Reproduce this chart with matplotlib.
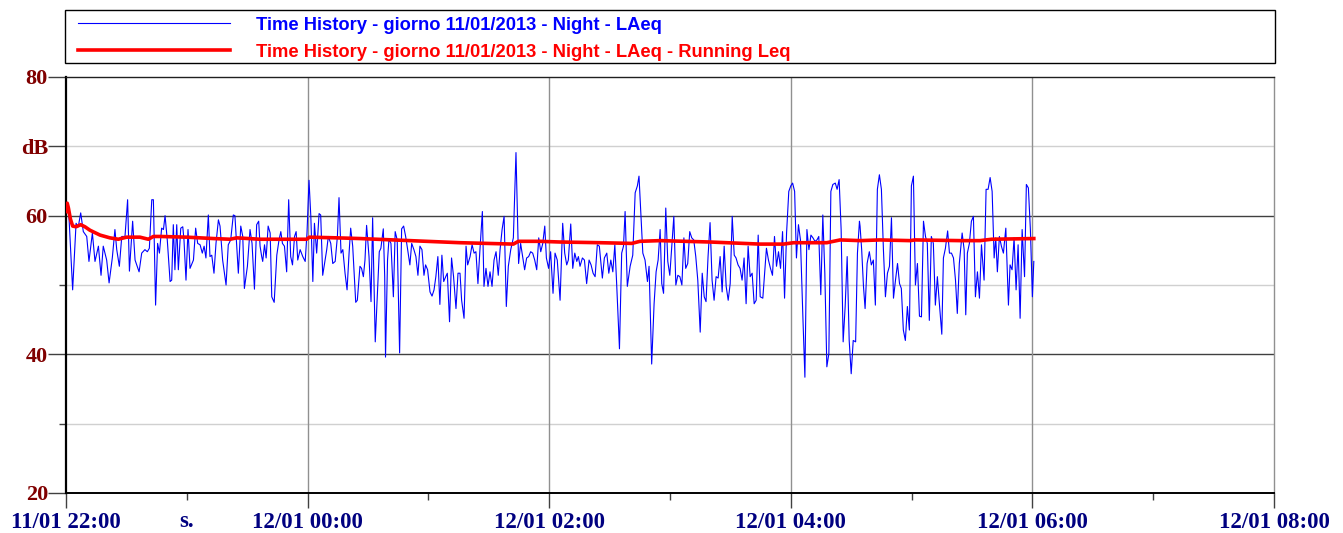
import datetime as dt

import matplotlib
matplotlib.use("Agg")
import matplotlib.pyplot as plt
import matplotlib.dates as mdates
from matplotlib.patches import Rectangle
from matplotlib.ticker import FixedLocator, FuncFormatter

# Time history (minutes from 11/01 22:00, dB)
START = dt.datetime(2013, 1, 11, 22, 0)
END = dt.datetime(2013, 1, 12, 8, 0)

LAEQ_MIN = [
    0.0, 1.2, 3.3, 5.0, 6.1, 7.3, 8.6, 10.3, 11.4, 13.1, 14.4, 16.1, 17.4, 18.5, 20.2, 21.4,
    23.0, 24.3, 25.2, 26.5, 27.7, 29.3, 30.6, 31.5, 33.1, 34.3, 36.3, 37.6, 39.2, 40.4, 41.4,
    42.6, 43.4, 44.5, 45.5, 46.4,
    47.5, 48.4, 49.2, 50.3, 51.7, 52.5, 53.3, 54.1, 55.0, 55.8, 57.0, 58.0, 58.6, 59.6, 60.6,
    61.6, 63.3, 64.4, 65.4, 66.6, 67.7, 68.6, 69.5, 70.7, 71.5, 72.4, 73.5, 74.5, 75.7, 76.5,
    77.8, 79.5, 80.6, 81.8, 83.1, 83.9, 85.6, 86.8, 87.8, 88.6, 90.1, 91.4, 92.4, 93.6, 94.7,
    95.7,
    96.4, 97.2, 97.7, 98.6, 99.4, 100.4, 101.4, 102.2, 103.4, 104.7, 105.8, 106.7, 107.5,
    108.5, 109.6, 110.6, 111.6, 112.5, 113.5, 114.3, 115.1, 116.3, 117.6, 118.8, 119.7, 120.7,
    121.6, 122.6, 123.4, 124.5, 125.7, 126.5, 127.5, 128.7, 129.5, 130.3, 131.5, 132.5, 133.7,
    134.8, 135.6, 136.6, 137.5, 138.6, 139.6, 140.6, 141.4, 142.4, 143.9, 144.7,
    146.0, 146.8, 147.7, 148.5, 149.3, 150.5, 151.5, 152.3, 153.6, 154.6, 155.6, 156.4, 157.6,
    158.3, 158.7, 159.7, 160.4, 161.4, 162.6, 163.5, 164.5, 165.7, 166.7, 167.7, 168.7, 169.7,
    170.8, 171.7, 172.8, 173.8, 174.8, 175.8, 176.8, 177.8, 178.6, 179.6, 180.8, 181.8, 182.8,
    183.7, 184.7, 185.7, 186.7, 187.6, 188.6, 189.4, 190.5, 191.5, 192.5, 193.7, 194.7,
    195.7, 196.5, 197.7, 198.7, 199.5, 200.7, 201.7, 202.7, 203.6, 204.6, 205.6, 206.8, 207.6,
    208.6, 209.6, 210.6, 211.6, 212.6, 213.6, 214.7, 215.6, 216.6, 217.6, 218.7, 219.7, 220.9,
    222.2, 223.5, 224.8, 225.8, 226.8, 227.8, 228.8, 229.8, 230.8, 231.8, 232.8, 233.8, 234.8,
    235.8, 236.8, 237.8, 238.6, 239.7, 240.7, 241.9, 242.9, 244.0,
    245.4, 246.7, 247.7, 248.7, 249.5, 250.7, 251.7, 252.7, 253.7, 254.5, 255.3, 256.5, 257.5,
    258.6, 259.8, 260.8, 261.8, 262.8, 263.9, 264.9, 266.4, 267.4, 268.6, 269.6, 270.6, 271.6,
    272.6, 273.5, 274.9, 276.0, 276.9, 277.7, 278.8, 280.2, 281.5, 282.7, 283.8, 284.6, 285.6,
    286.5, 287.6, 288.8, 289.6, 290.9, 292.1, 293.1, 294.1,
    295.1, 295.9, 296.8, 297.9, 298.9, 299.9, 300.9, 301.9, 302.9, 303.9, 304.9, 305.9, 306.9,
    307.8, 308.8, 309.8, 310.8, 311.8, 312.8, 313.8, 315.0, 316.0, 317.0, 317.9, 318.9, 319.9,
    320.9, 321.9, 322.9, 323.9, 324.9, 325.9, 326.9, 327.9, 328.9, 329.9, 330.9, 331.9, 332.8,
    333.8, 334.8, 335.8, 336.8, 337.8, 338.8, 339.8, 340.8, 341.8, 342.8, 343.8,
    344.8, 346.1, 347.0, 347.9, 348.9, 349.9, 350.9, 351.9, 352.9, 353.9, 354.9, 355.9, 356.9,
    357.9, 359.0, 360.0, 360.9, 361.9, 362.8, 363.8, 364.8, 366.0, 367.0, 368.0, 369.0, 370.0,
    371.0, 372.0, 373.0, 373.9, 374.9, 375.9, 376.9, 377.9, 378.9, 379.9, 380.9, 382.1, 383.0,
    384.0, 385.0, 386.0, 387.0, 388.0, 389.0, 390.0, 391.0, 392.2, 393.1, 394.1,
    394.4, 395.2, 396.1, 396.9, 397.9, 399.0, 400.0, 401.0, 402.0, 403.0, 404.0, 405.0, 406.0,
    407.0, 408.0, 409.0, 410.0, 411.0, 412.0, 413.0, 414.0, 414.9, 415.9, 416.9, 417.9, 418.9,
    419.9, 420.9, 421.9, 422.9, 423.9, 424.9, 425.9, 426.9, 427.8, 428.8, 429.8, 430.8, 431.8,
    432.8, 433.8, 435.0, 435.8, 436.8, 437.9, 438.8, 439.8, 440.8, 441.8, 442.7, 443.7,
    445.1, 446.1, 446.9, 447.7, 448.7, 449.7, 450.7, 451.7, 452.7, 453.7, 454.7, 456.0, 457.0,
    458.0, 459.0, 460.0, 461.0, 461.8, 462.6, 463.6, 464.6, 465.6, 466.8, 468.1, 468.9, 469.9,
    470.9, 471.9, 472.9, 473.9, 474.9, 476.1, 477.0, 478.0, 479.0, 480.0, 480.7,
]
LAEQ_DB = [
    60.6, 61.4, 49.3, 58.9, 58.4, 60.4, 57.7, 57.0, 53.4, 57.5, 53.4, 55.6, 51.4, 55.6, 53.6, 50.3,
    53.9, 58.0, 55.1, 52.7, 57.0, 57.0, 62.3, 52.0, 59.2, 53.6, 51.9, 54.6, 55.1, 54.8, 55.3,
    62.3, 62.3, 47.1, 56.0, 54.6,
    58.2, 58.0, 60.0, 56.5, 50.5, 50.7, 58.7, 52.2, 58.7, 52.2, 58.2, 58.4, 56.5, 50.7, 58.0,
    52.4, 53.6, 58.2, 56.0, 55.8, 54.6, 55.6, 53.9, 60.1, 54.1, 54.3, 51.7, 56.0, 59.4, 58.5,
    53.6, 50.0, 55.8, 56.5, 60.1, 60.0, 51.7, 58.5, 57.0, 49.5, 52.7, 58.0, 56.0, 49.4, 58.7,
    59.2,
    55.6, 54.1, 53.4, 55.8, 53.9, 58.5, 57.5, 48.3, 47.5, 54.3, 56.5, 57.7, 56.0,
    55.6, 51.9, 62.3, 54.1, 52.9, 57.0, 57.7, 53.6, 55.1, 54.1, 53.4, 57.5, 65.1,
    59.9, 50.5, 58.9, 54.6, 60.3, 60.1, 51.4, 53.6, 55.1, 57.0, 56.0, 53.1, 53.4,
    57.0, 62.6, 54.6, 55.1, 51.7, 49.3, 54.6, 58.2, 55.6, 47.5, 47.8,
    52.7, 52.4, 51.2, 53.6, 58.6, 54.1, 47.6, 59.7, 41.8, 48.3, 54.8, 55.3, 58.1,
    51.2, 39.6, 53.6, 56.6, 56.0, 48.3, 57.7, 56.5, 40.2, 58.1, 58.5, 57.0, 55.1,
    52.9, 56.0, 55.1, 54.1, 51.4, 55.6, 55.1, 51.4, 52.9, 52.2, 49.0, 48.4, 49.3,
    51.2, 54.1, 47.2, 54.3, 50.5, 51.2, 51.7, 44.7, 53.9, 51.2, 46.6, 51.7,
    51.7, 47.8, 45.2, 55.6, 52.9, 54.1, 55.8, 54.6, 54.8, 50.2, 55.1, 60.6, 49.8,
    52.4, 49.8, 51.9, 49.8, 53.6, 54.8, 51.4, 55.1, 58.0, 59.9, 46.9, 52.7, 55.1,
    56.8, 69.1, 53.1, 56.0, 54.1, 52.2, 53.9, 54.1, 54.8, 54.6, 53.6, 52.2, 56.8,
    54.8, 56.0, 58.5, 53.9, 52.4, 54.8, 48.8, 54.6, 53.6,
    47.8, 58.9, 54.6, 52.9, 53.6, 58.8, 52.4, 54.6, 53.4, 54.1, 52.7, 53.9, 53.6,
    50.2, 53.6, 52.9, 51.7, 51.2, 55.8, 55.6, 51.0, 53.9, 54.6, 51.7, 53.6, 51.9,
    55.8, 50.2, 40.8, 54.6, 55.6, 60.6, 49.8, 52.7, 54.3, 63.3, 64.3, 65.7, 59.7,
    54.6, 53.6, 50.5, 52.7, 38.6, 47.3, 51.9, 53.6,
    58.0, 50.2, 48.8, 61.1, 53.4, 51.4, 55.6, 59.9, 50.0, 51.4, 51.2, 50.0, 56.8,
    52.4, 53.1, 57.7, 56.8, 56.5, 54.1, 50.7, 43.2, 51.7, 48.3, 47.6, 54.1, 59.0,
    50.7, 47.8, 51.2, 51.0, 54.1, 49.0, 55.6, 49.8, 47.8, 50.2, 59.9, 54.3, 53.9,
    52.9, 52.4, 50.7, 53.9, 47.3, 55.6, 51.2, 51.7, 47.3, 47.8, 57.2,
    48.3, 48.1, 51.7, 55.3, 53.6, 52.4, 51.4, 57.0, 52.7, 54.8, 52.4, 57.7, 48.1,
    57.5, 63.5, 64.3, 64.7, 63.5, 53.9, 58.7, 56.5, 45.4, 36.7, 58.0, 55.1, 57.2,
    56.8, 56.3, 56.5, 57.0, 48.6, 60.1, 51.7, 38.2, 40.1, 63.5, 64.5, 64.7, 63.8,
    65.2, 58.0, 41.8, 46.9, 54.1, 42.0, 37.2, 42.0, 41.8, 54.6, 59.2,
    58.5, 55.1, 49.8, 46.6, 53.1, 54.8, 52.9, 53.6, 47.1, 63.8, 65.9, 63.8, 55.1,
    48.3, 51.7, 52.7, 59.7, 48.1, 50.7, 53.1, 50.2, 49.5, 43.5, 42.0, 46.9, 43.5,
    64.3, 65.7, 50.0, 53.1, 45.5, 45.4, 59.2, 57.0, 56.0, 44.9, 57.0, 56.0, 47.1,
    51.2, 47.3, 42.9, 53.9, 55.3, 57.8, 54.6, 54.6, 53.9, 50.7, 45.9, 53.1,
    57.5, 55.1, 45.7, 54.6, 56.0, 59.2, 59.9, 48.3, 51.9, 48.1, 55.8, 50.7, 63.8,
    63.8, 65.5, 63.5, 53.9, 56.8, 51.9, 57.0, 55.6, 54.6, 58.2, 47.1, 52.9, 52.2,
    56.8, 49.3, 55.8, 45.2, 58.0, 51.2, 64.5, 64.0, 58.0, 48.3, 53.4,
]

# Running Leq
RUN_MIN = [
    0.0, 0.6, 1.2, 2.2, 3.3, 5.0, 7.3, 9.4, 11.9, 16.9, 21.8, 26.0, 30.1, 36.7, 40.9, 43.4,
    46.7, 59.9, 73.2, 81.5, 84.8, 96.4, 119.6, 120.9, 134.5, 146.0, 162.6, 179.1, 195.7,
    208.9, 222.2, 224.7, 235.4, 245.4, 265.3, 281.0, 285.1, 295.1, 319.9, 344.8, 356.4,
    361.4, 377.9, 384.5, 394.5, 404.3, 419.2, 421.7, 444.1, 454.0, 459.8, 480.7,
]
RUN_DB = [
    60.6, 61.8, 61.1, 59.5, 58.5, 58.4, 58.7, 58.4, 57.9, 57.2, 56.8, 56.6, 56.9, 56.9, 56.6,
    57.0, 57.0, 56.9, 56.7, 56.6, 56.8, 56.6, 56.6, 56.9, 56.8, 56.7, 56.5, 56.3, 56.1, 56.0,
    55.9, 56.3, 56.3, 56.2, 56.1, 56.0, 56.3, 56.4, 56.2, 55.9, 55.9, 56.1, 56.1, 56.5, 56.4,
    56.5, 56.4, 56.5, 56.4, 56.4, 56.6, 56.7,
]

Y_TICKS = [20, 40, 60, 70, 80]
Y_LABELS = ["20", "40", "60", "dB", "80"]
Y_MINOR = [30, 50]

LABEL_BLUE = "Time History - giorno 11/01/2013 - Night - LAeq"
LABEL_RED = "Time History - giorno 11/01/2013 - Night - LAeq - Running Leq"

SERIF = ["Liberation Serif", "DejaVu Serif"]
SANS = ["Liberation Sans", "DejaVu Sans"]


def to_times(minutes):
    return [START + dt.timedelta(minutes=m) for m in minutes]


W, H = 1343, 533
fig = plt.figure(figsize=(W / 100, H / 100), dpi=100)
ax = fig.add_axes([66 / W, 1 - 493 / H, (1274 - 66) / W, (493 - 77) / H])

# grid
for lv, col in [(30, "#d0d0d0"), (50, "#d0d0d0"), (70, "#d0d0d0"),
                (40, "#404040"), (60, "#404040")]:
    ax.axhline(lv, color=col, lw=1.0, zorder=1)
for hh in [24, 26, 28, 30]:
    ax.axvline(START + dt.timedelta(hours=hh - 22), color="#909090", lw=1.0, zorder=1)

ax.plot(to_times(LAEQ_MIN), LAEQ_DB, color="#0000ff", lw=0.8, zorder=3, label=LABEL_BLUE)
ax.plot(to_times(RUN_MIN), RUN_DB, color="#ff0000", lw=2.6, zorder=4, label=LABEL_RED)

ax.set_xlim(START, END)
ax.set_ylim(20, 80)

# y axis
ax.yaxis.set_major_locator(FixedLocator(Y_TICKS))
ax.set_yticklabels(Y_LABELS)
ax.yaxis.set_minor_locator(FixedLocator(Y_MINOR))
ax.tick_params(axis="y", which="major", direction="out", length=13, width=1,
               color="#404040", pad=0, labelsize=16, labelcolor="#800000")
ax.tick_params(axis="y", which="minor", direction="out", length=5, width=1,
               color="#404040")
for t in ax.get_yticklabels():
    t.set_fontfamily(SERIF)
    t.set_fontweight("bold")

# x axis
ax.xaxis.set_major_locator(mdates.HourLocator(byhour=range(0, 24, 2)))
ax.xaxis.set_major_formatter(mdates.DateFormatter("%d/%m %H:%M"))
ax.xaxis.set_minor_locator(mdates.HourLocator(byhour=range(1, 24, 2)))
first_minor = mdates.date2num(START + dt.timedelta(hours=1))
ax.xaxis.set_minor_formatter(FuncFormatter(
    lambda v, pos: "s." if abs(v - first_minor) < 1e-4 else ""))
ax.tick_params(axis="x", which="major", direction="out", length=11, width=1,
               color="#404040", pad=2.5, labelsize=16.5, labelcolor="#000080")
ax.tick_params(axis="x", which="minor", direction="out", length=5, width=1,
               color="#404040", pad=8.3, labelsize=16.5, labelcolor="#000080")
for t in ax.get_xticklabels() + ax.get_xticklabels(minor=True):
    t.set_fontfamily(SERIF)
    t.set_fontweight("bold")

ax.spines["left"].set_linewidth(1.6)
ax.spines["bottom"].set_linewidth(1.4)
ax.spines["top"].set_linewidth(1.0)
ax.spines["top"].set_color("#202020")
ax.spines["right"].set_linewidth(1.0)
ax.spines["right"].set_color("#909090")

# legend box above the plot
fig.patches.append(Rectangle((65 / W, 1 - 63 / H), 1210 / W, 53 / H,
                             transform=fig.transFigure, fill=False,
                             edgecolor="black", lw=1.0))
leg = fig.legend(loc="upper left",
                 bbox_to_anchor=(74 / W, 1 - 65 / H, 1190 / W, 52 / H),
                 borderaxespad=0, frameon=False, handlelength=8.3,
                 handletextpad=1.45, labelspacing=0.55, borderpad=0.2,
                 labelcolor="linecolor",
                 prop={"family": SANS, "weight": "bold", "size": 13.2})

fig.savefig("out.png", dpi=100)
